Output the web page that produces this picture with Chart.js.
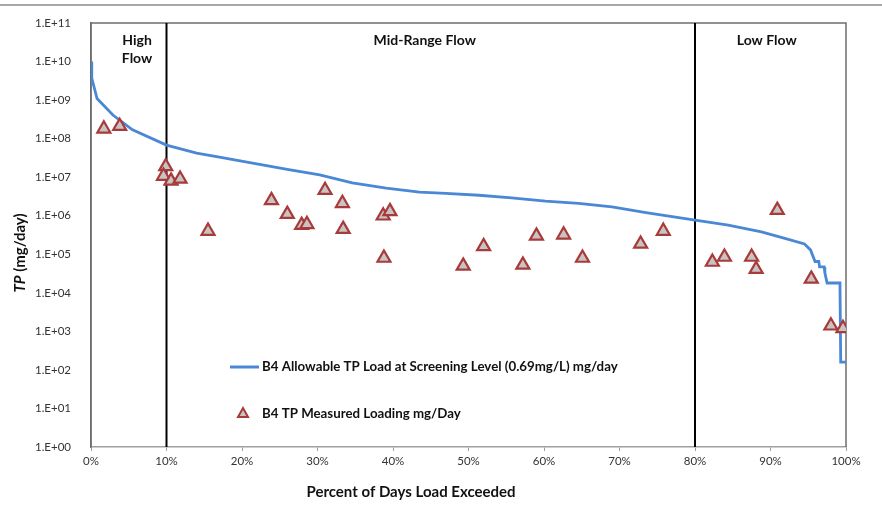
<!DOCTYPE html>
<html>
<head>
<meta charset="utf-8">
<script src="https://cdn.jsdelivr.net/npm/chart.js@4"></script>
<style>
  html, body { margin: 0; padding: 0; background: #fff; }
  #wrap { width: 882px; height: 518px; }
</style>
</head>
<body>
<div id="wrap"><canvas id="tpChart" width="882" height="518"></canvas></div>
<script>
// allowable load curve (percent of days exceeded, mg/day)
const curvePct = [0, 0.1, 0.8, 2.9, 5.5, 10, 14, 17, 21.4, 26, 30.3, 34.6, 39.1, 43.5, 47, 51.4, 55.7, 60.2, 64.6, 69, 73.5, 79.8, 84.4, 88.8, 91.9, 94.5, 95.3, 95.9, 96.4, 96.5, 97.1, 97.2, 97.5, 99.2, 99.3, 100];
const curveLoad = [1e10, 3.7e9, 1.1e9, 4.1e8, 1.7e8, 6.8e7, 4.2e7, 3.3e7, 2.3e7, 1.6e7, 1.15e7, 7.1e6, 5.2e6, 4.1e6, 3.8e6, 3.4e6, 2.9e6, 2.4e6, 2.1e6, 1.7e6, 1.2e6, 7.8e5, 5.7e5, 3.8e5, 2.6e5, 1.85e5, 1.3e5, 6.5e4, 6.5e4, 4.7e4, 4.7e4, 3.3e4, 1.8e4, 1.8e4, 1.6e2, 1.6e2];

// measured loads
const measPct = [1.7, 3.8, 9.9, 9.6, 10.6, 11.8, 15.5, 23.9, 26, 27.9, 28.6, 31, 33.3, 33.4, 38.7, 39.6, 38.8, 49.3, 52, 57.2, 59, 62.6, 65.1, 72.8, 75.8, 82.3, 83.9, 87.5, 88.1, 90.9, 95.4, 98, 99.6];
const measLoad = [1.8e8, 2.1e8, 1.9e7, 1.07e7, 8e6, 9e6, 4e5, 2.5e6, 1.1e6, 5.7e5, 6e5, 4.6e6, 2.1e6, 4.5e5, 1e6, 1.3e6, 8e4, 5e4, 1.6e5, 5.3e4, 3e5, 3.2e5, 8e4, 1.85e5, 4e5, 6.3e4, 8.5e4, 8.5e4, 4.1e4, 1.4e6, 2.3e4, 1.4e3, 1.2e3];

// flow regime breaks and labels
const flowBreaks = [10, 80];
const flowLabels = [['High', 'Flow'], ['Mid-Range Flow'], ['Low Flow']];

const yTickValues = [1, 1e1, 1e2, 1e3, 1e4, 1e5, 1e6, 1e7, 1e8, 1e9, 1e10, 1e11];

const seriesNames = ['B4 Allowable TP Load at Screening Level (0.69mg/L) mg/day', 'B4 TP Measured Loading mg/Day'];

const FONT = 'Lato, "Open Sans", sans-serif';
const BLUE = '#4a88d6';
const RED = '#a83a3a';
const GRAY_FILL = '#c8c4c4';
const INK = '#111';

const breakSets = flowBreaks.map(b => ({
    type: 'line',
    data: [{ x: b, y: yTickValues[0] }, { x: b, y: yTickValues[yTickValues.length - 1] }],
    borderColor: '#000',
    borderWidth: 2,
    pointRadius: 0,
    order: 3
}));

const extras = {
    id: 'extras',
    beforeDatasetsDraw(chart) {
        const { ctx, chartArea: a } = chart;
        ctx.save();
        ctx.strokeStyle = '#6e6e6e';
        ctx.lineWidth = 1.5;
        ctx.beginPath();
        ctx.moveTo(a.left, a.bottom);
        ctx.lineTo(a.left, a.top);
        ctx.lineTo(a.right, a.top);
        ctx.lineTo(a.right, a.bottom);
        ctx.stroke();
        ctx.restore();
    },
    afterDraw(chart) {
        const { ctx } = chart;
        const xs = chart.scales.x;
        ctx.save();

        // frame line at the very top
        ctx.strokeStyle = '#a8a8a8';
        ctx.lineWidth = 2;
        ctx.beginPath();
        ctx.moveTo(0, 5);
        ctx.lineTo(882, 5);
        ctx.stroke();

        // flow regime labels
        ctx.fillStyle = INK;
        ctx.font = 'bold 14px ' + FONT;
        ctx.textAlign = 'center';
        ctx.textBaseline = 'middle';
        const centers = [6.1, 44.2, 89.5];
        flowLabels.forEach((lines, i) => {
            const cx = xs.getPixelForValue(centers[i]);
            lines.forEach((t, j) => ctx.fillText(t, cx, 40 + j * 18));
        });

        // legend inside plot
        ctx.strokeStyle = BLUE;
        ctx.lineWidth = 3;
        ctx.beginPath();
        ctx.moveTo(230, 367);
        ctx.lineTo(259, 367);
        ctx.stroke();
        ctx.font = 'bold 13.3px ' + FONT;
        ctx.textAlign = 'left';
        ctx.fillText(seriesNames[0], 262, 367);

        ctx.beginPath();
        ctx.moveTo(243, 408);
        ctx.lineTo(248, 417);
        ctx.lineTo(238, 417);
        ctx.closePath();
        ctx.fillStyle = GRAY_FILL;
        ctx.fill();
        ctx.strokeStyle = RED;
        ctx.lineWidth = 2;
        ctx.stroke();
        ctx.fillStyle = INK;
        ctx.fillText(seriesNames[1], 262, 414);

        // axis titles
        ctx.textAlign = 'center';
        ctx.font = 'bold 15px ' + FONT;
        ctx.fillText('Percent of Days Load Exceeded', 411, 492);

        ctx.translate(20, 253);
        ctx.rotate(-Math.PI / 2);
        ctx.textAlign = 'left';
        const t1 = 'TP';
        const t2 = ' (mg/day)';
        ctx.font = 'italic bold 15px ' + FONT;
        const w1 = ctx.measureText(t1).width;
        ctx.font = 'bold 15px ' + FONT;
        const w2 = ctx.measureText(t2).width;
        const start = -(w1 + w2) / 2;
        ctx.font = 'italic bold 15px ' + FONT;
        ctx.fillText(t1, start, 0);
        ctx.font = 'bold 15px ' + FONT;
        ctx.fillText(t2, start + w1, 0);
        ctx.restore();
    }
};

new Chart(document.getElementById('tpChart'), {
    type: 'scatter',
    data: {
        datasets: [
            {
                type: 'line',
                label: seriesNames[0],
                data: curvePct.map((p, i) => ({ x: p, y: curveLoad[i] })),
                borderColor: BLUE,
                borderWidth: 2.8,
                pointRadius: 0,
                tension: 0,
                order: 2
            },
            {
                label: seriesNames[1],
                data: measPct.map((p, i) => ({ x: p, y: measLoad[i] })),
                pointStyle: 'triangle',
                pointRadius: 7.5,
                pointHoverRadius: 7.5,
                backgroundColor: GRAY_FILL,
                borderColor: RED,
                borderWidth: 2.2,
                order: 1
            },
            ...breakSets
        ]
    },
    options: {
        responsive: false,
        animation: false,
        events: [],
        layout: { padding: { top: 23, right: 36, left: 0, bottom: 0 } },
        plugins: {
            legend: { display: false },
            tooltip: { enabled: false }
        },
        scales: {
            x: {
                type: 'linear',
                min: 0,
                max: 100,
                afterFit: s => { s.height = 71; },
                grid: { display: true, drawOnChartArea: false, drawTicks: true, tickLength: 4, color: '#a0a0a0' },
                border: { display: true, color: '#a0a0a0', width: 1.5 },
                ticks: {
                    stepSize: 10,
                    padding: 3,
                    color: '#333',
                    font: { family: FONT, size: 11.5 },
                    callback: v => v + '%'
                }
            },
            y: {
                type: 'logarithmic',
                min: 1,
                max: 1e11,
                afterFit: s => { s.width = 91; },
                afterBuildTicks: s => { s.ticks = yTickValues.map(v => ({ value: v })); },
                grid: { display: false },
                border: { display: true, color: '#6e6e6e', width: 1.5 },
                ticks: {
                    padding: 12,
                    color: '#333',
                    font: { family: FONT, size: 11.5 },
                    callback: v => '1.E+' + String(Math.round(Math.log10(v))).padStart(2, '0')
                }
            }
        }
    },
    plugins: [extras]
});
</script>
</body>
</html>
